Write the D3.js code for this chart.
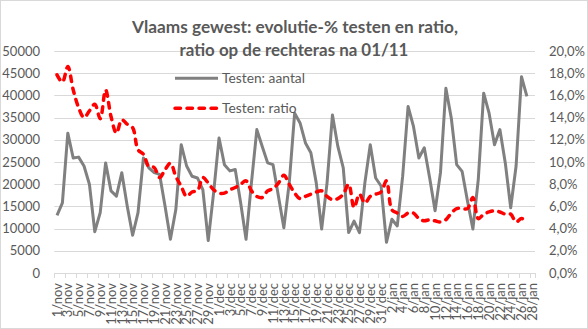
<!DOCTYPE html>
<html><head><meta charset="utf-8">
<script src="https://cdn.jsdelivr.net/npm/d3@7"></script>
<style>
html,body{margin:0;padding:0;background:#fff;}
svg{display:block;font-family:Lato,"Open Sans",sans-serif;}
</style></head>
<body>
<svg id="chart" width="588" height="329"></svg>
<script>
// ---- data ----
const monthNames = ["nov", "dec", "jan"];
const monthDays = [30, 31, 28];
const categories = [];
monthNames.forEach((m, k) => { for (let d = 1; d <= monthDays[k]; d++) categories.push(d + "/" + m); });

const testenAantal = [
  13000,15800,31500,25900,26100,24100,20000,9300,13600,24800,
  18500,17300,22600,15100,8500,13600,25900,23700,22600,22200,
  15100,7600,14300,28900,24100,21800,21400,18800,7300,18100,
  30400,24400,23000,23300,15800,7600,20300,32300,28500,24800,
  24400,17300,10200,20300,36000,33800,29300,27100,20300,9900,
  20300,35600,28500,23700,9100,11700,9100,20300,28900,21400,
  19600,6900,12100,10600,21800,37500,33000,25900,28200,21400,
  14000,22600,41600,34900,24400,22900,16200,9900,21100,40500,
  36000,28900,32300,24800,14700,24100,44200,39800
];
const testenRatio = [
  17.85,17.2,18.6,16.5,14.9,14.0,14.6,15.2,13.9,16.5,
  14.1,12.6,13.8,13.4,13.1,11.1,10.7,9.6,9.5,8.6,
  9.3,9.9,8.7,7.8,6.9,7.3,7.4,8.6,8.1,7.5,
  7.2,7.2,7.5,7.7,8.0,8.3,7.4,6.9,6.8,7.4,
  7.6,8.1,8.8,8.0,7.2,6.7,6.9,7.1,7.3,7.4,
  6.9,6.6,6.7,7.1,8.0,5.9,7.1,6.3,6.9,7.1,
  7.3,8.3,5.7,5.4,5.1,5.4,5.4,4.9,4.7,4.8,
  4.7,4.6,4.8,5.4,5.8,5.8,5.8,6.8,4.9,5.3,
  5.5,5.6,5.5,5.3,5.3,4.6,4.9,4.7
];
const leftTicks = [0,5000,10000,15000,20000,25000,30000,35000,40000,45000,50000];
const rightTicks = [0,2,4,6,8,10,12,14,16,18,20];
const titleLines = ["Vlaams gewest: evolutie-% testen en ratio,", "ratio op de rechteras na 01/11"];
const seriesNames = ["Testen: aantal", "Testen: ratio"];

// ---- layout ----
const svg = d3.select("#chart");
const W = 588, H = 329;
const plot = {left: 54.3, right: 535, top: 51, bottom: 273};
const textCol = "#595959", gridCol = "#d9d9d9";

svg.append("rect").attr("x",0.5).attr("y",0.5).attr("width",W-1).attr("height",H-1)
  .attr("fill","#fff").attr("stroke",gridCol);

const x = d3.scaleBand().domain(categories).range([plot.left, plot.right]).padding(0);
const bw = x.bandwidth();
const cx = c => x(c) + bw/2;
const yL = d3.scaleLinear().domain([0,50000]).range([plot.bottom, plot.top]);
const yR = d3.scaleLinear().domain([0,20]).range([plot.bottom, plot.top]);

// gridlines
svg.append("g").selectAll("line").data(leftTicks.filter(d=>d>0)).join("line")
  .attr("x1", plot.left).attr("x2", plot.right)
  .attr("y1", d=>Math.round(yL(d))+0.5).attr("y2", d=>Math.round(yL(d))+0.5)
  .attr("stroke", gridCol).attr("stroke-width",1);

// left axis labels
svg.append("g").selectAll("text").data(leftTicks).join("text")
  .attr("x", 40).attr("y", d=>yL(d)).attr("dy","0.36em")
  .attr("text-anchor","end").attr("fill",textCol).attr("font-size","13px")
  .text(d=>d);

// right axis labels
const fmtR = d => d.toFixed(1).replace(".", ",") + "%";
svg.append("g").selectAll("text").data(rightTicks).join("text")
  .attr("x", 549).attr("y", d=>yR(d)).attr("dy","0.36em")
  .attr("text-anchor","start").attr("fill",textCol).attr("font-size","13px")
  .text(fmtR);

// x axis
const xAxis = svg.append("g");
xAxis.append("line").attr("x1",plot.left).attr("x2",plot.right)
  .attr("y1",plot.bottom+0.5).attr("y2",plot.bottom+0.5).attr("stroke",gridCol);
const tickCats = categories.filter((c,i)=>i%2===0);
xAxis.selectAll("line.tick").data(tickCats.map(c=>x(c)).concat([plot.right])).join("line")
  .attr("class","tick")
  .attr("x1",d=>Math.round(d)+0.5).attr("x2",d=>Math.round(d)+0.5)
  .attr("y1",plot.bottom).attr("y2",plot.bottom+5).attr("stroke",gridCol);
xAxis.selectAll("text").data(tickCats).join("text")
  .attr("transform", c=>`translate(${cx(c)},283) rotate(-90)`)
  .attr("text-anchor","end").attr("dy","0.36em")
  .attr("fill",textCol).attr("font-size","13px")
  .text(c=>c);

// series
const greyLine = d3.line().x((d,i)=>cx(categories[i])).y(d=>yL(d));
svg.append("path").datum(testenAantal).attr("d", greyLine)
  .attr("fill","none").attr("stroke","#808080").attr("stroke-width",3)
  .attr("stroke-linejoin","round");

const redLine = d3.line().x((d,i)=>cx(categories[i])).y(d=>yR(d)).curve(d3.curveCatmullRom.alpha(0.5));
svg.append("path").datum(testenRatio).attr("d", redLine)
  .attr("fill","none").attr("stroke","#ff0000").attr("stroke-width",3.5)
  .attr("stroke-dasharray","5.5,6.5").attr("stroke-linecap","round");

// legend
const leg = svg.append("g");
leg.append("line").attr("x1",175).attr("x2",218).attr("y1",78.3).attr("y2",78.3)
  .attr("stroke","#808080").attr("stroke-width",3);
leg.append("line").attr("x1",175).attr("x2",218).attr("y1",108.3).attr("y2",108.3)
  .attr("stroke","#ff0000").attr("stroke-width",3.5)
  .attr("stroke-dasharray","5.5,6.5").attr("stroke-linecap","round");
leg.append("text").attr("x",222).attr("y",78.3).attr("dy","0.36em")
  .attr("fill",textCol).attr("font-size","13.8px").text(seriesNames[0]);
leg.append("text").attr("x",222).attr("y",108.3).attr("dy","0.36em")
  .attr("fill",textCol).attr("font-size","13.8px").text(seriesNames[1]);

// title
const titleTargets = [326, 229];
const titleY = [33, 56];
const titleX = [295, 294];
titleLines.forEach((t,i)=>{
  const el = svg.append("text").attr("x",titleX[i]).attr("y",titleY[i])
    .attr("text-anchor","middle").attr("fill",textCol).attr("font-weight","bold")
    .attr("font-size","18px").text(t);
  const w = el.node().getComputedTextLength();
  if (w > 0) el.attr("font-size", (18*titleTargets[i]/w).toFixed(2)+"px");
});
</script>
</body></html>
